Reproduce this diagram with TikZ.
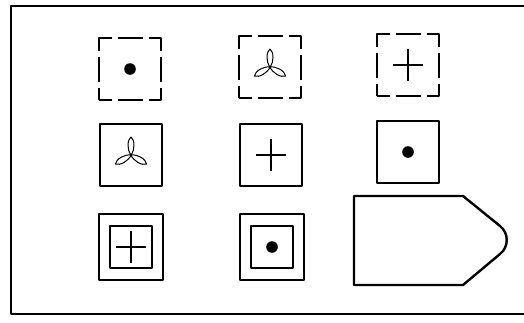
\documentclass[tikz,border=0pt]{standalone}
\usetikzlibrary{calc}

\tikzset{
  cell/.style={draw, line width=0.9pt, minimum size=31pt, inner sep=0pt},
  dashcell/.style={cell, dash pattern=on 12.5pt off 3pt, dash phase=6.25pt},
  bigcell/.style={cell, minimum width=32pt, minimum height=33pt},
  innercell/.style={cell, minimum size=21pt},
}
\newcommand{\blob}[1]{\fill (#1) circle (2.9pt);}
\newcommand{\cross}[1]{\draw[line width=0.7pt] ($(#1)+(-15,0)$) -- ($(#1)+(15,0)$)
  ($(#1)+(0,-16)$) -- ($(#1)+(0,16)$);}
\newcommand{\propeller}[1]{\foreach \a in {90,210,330}
  \draw[line width=0.5pt, shift={(#1)}, rotate=\a]
    (0,0) .. controls (5,4) and (15,4) .. (18,0) .. controls (15,-4) and (5,-4) .. (0,0);}

\begin{document}
\begin{tikzpicture}[x=0.5pt, y=-0.5pt, line join=round]
  \useasboundingbox (0,0) rectangle (524,322);
  % outer frame (runs off the right edge)
  \draw[line width=1.3pt] (11,6) rectangle (530,314);
  % top row: dashed cells
  \node[dashcell] (r1c1) at (130,69) {};
  \node[dashcell] (r1c2) at (270,67) {};
  \node[dashcell] (r1c3) at (408,65) {};
  \blob{r1c1}
  \propeller{r1c2}
  \cross{r1c3}
  % middle row: plain cells
  \node[cell] (r2c1) at (131,155) {};
  \node[cell] (r2c2) at (271,155) {};
  \node[cell] (r2c3) at (408,152) {};
  \propeller{r2c1}
  \cross{r2c2}
  \blob{r2c3}
  % bottom row: double cells
  \node[bigcell] (r3c1) at (131,247) {};
  \node[innercell] (r3c1in) at (r3c1) {};
  \node[bigcell] (r3c2) at (272,247) {};
  \node[innercell] (r3c2in) at (r3c2) {};
  \cross{r3c1in}
  \blob{r3c2in}
  % answer plate
  \draw[line width=1.2pt] (354,196) -- (463,196) -- (500,226)
    .. controls (509,233) and (509,247) .. (500,254) -- (463,285) -- (354,285) -- cycle;
\end{tikzpicture}
\end{document}
